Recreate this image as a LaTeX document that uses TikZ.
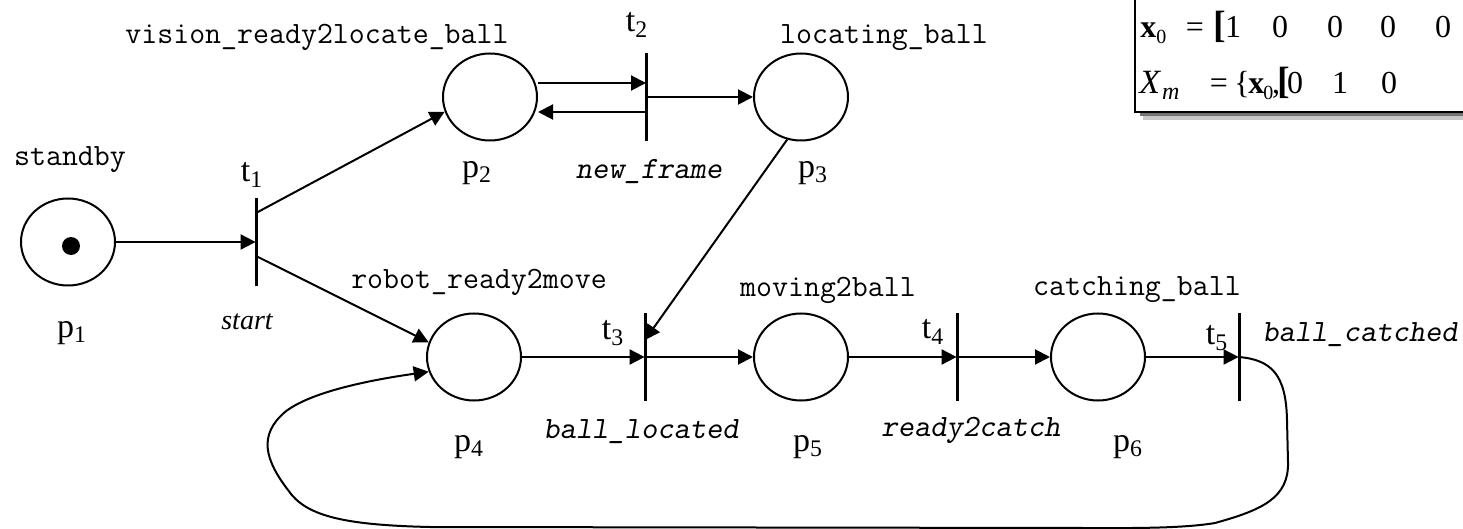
\documentclass[tikz,border=0pt]{standalone}
\usepackage{fontspec}
\setmainfont{Liberation Serif}
\usetikzlibrary{arrows.meta,shapes.geometric,calc}
% lowered small index used inside the marking box
\newcommand\idx[2][10]{\raisebox{-0.35ex}{\fontsize{#1}{#1}\selectfont #2}}

\begin{document}
\begin{tikzpicture}[x=0.5pt,y=-0.5pt,
  placenode/.style={draw,ellipse,line width=1pt,inner sep=0pt,minimum width=47pt,minimum height=43.5pt},
  transnode/.style={inner sep=0pt,minimum width=0pt,minimum height=43.5pt},
  bar/.style={line width=1.5pt},
  flow/.style={line width=1pt,-{Triangle[length=7.5pt,width=7.5pt]}},
  lbl/.style={inner sep=0pt,font=\fontsize{17}{20}\selectfont},
  act/.style={inner sep=0pt,font=\fontsize{15.5}{18}\selectfont\ttfamily},
  evt/.style={inner sep=0pt,font=\fontsize{15.5}{18}\selectfont\ttfamily\slshape},
  evtserif/.style={inner sep=0pt,font=\fontsize{14}{16}\selectfont\itshape},
  mtx/.style={inner sep=0pt,anchor=base,font=\fontsize{16}{18}\selectfont},
  brk/.style={inner sep=0pt,anchor=base,font=\fontsize{19}{21}\selectfont\bfseries},
]
\useasboundingbox (0,0) rectangle (1463,529);

% ---------- places ----------
\node[placenode] (p1) at (68,242) {};
\node[placenode] (p2) at (490,97) {};
\node[placenode] (p3) at (801,97) {};
\node[placenode] (p4) at (474,357) {};
\node[placenode] (p5) at (801,357) {};
\node[placenode] (p6) at (1098,357) {};
\fill (p1.center) ++(3,4) circle (4.5pt) node (tok) {};

% ---------- transitions ----------
\node[transnode] (t1) at (256,242) {};
\node[transnode] (t2) at (646,97) {};
\node[transnode] (t3) at (645,357) {};
\node[transnode] (t4) at (957,357) {};
\node[transnode] (t5) at (1239,357) {};
\foreach \t in {t1,t2,t3,t4,t5}
  \draw[bar] (\t.north) -- (\t.south);

% ports on the transition bars
\coordinate (t1u) at ($(t1)+(0,-29)$);
\coordinate (t1d) at ($(t1)+(0,14)$);
\coordinate (t2a) at ($(t2)+(0,-14)$);
\coordinate (t2b) at ($(t2)+(0,15)$);
\coordinate (t3c) at ($(t3)+(0,-17)$);

% ---------- arcs ----------
\draw[flow] (p1) -- (t1);
\draw[flow] (t1u) -- (p2.198);
\draw[flow] (t1d) -- (p4.162);
\draw[flow] (t2a -| p2.east) -- (t2a);
\draw[flow] (t2b) -- (t2b -| p2.east);
\draw[flow] (t2) -- (p3);
\draw[flow] (p3.252) -- (t3c);
\draw[flow] (p4) -- (t3);
\draw[flow] (t3) -- (p5);
\draw[flow] (p5) -- (t4);
\draw[flow] (t4) -- (p6);
\draw[flow] (p6) -- (t5);
% return arc from t5 back to p4
\draw[flow] (t5.center) .. controls (1272,360) and (1286,375) .. (1287,420)
  -- (1288,462) .. controls (1289,498) and (1262,510) .. (1215,523)
  .. controls (1180,529) and (1120,528) .. (1083,528)
  -- (430,527) .. controls (340,525) and (305,515) .. (288,490)
  .. controls (265,460) and (258,435) .. (285,412)
  .. controls (310,392) and (370,380) .. (p4.198);

% ---------- place names ----------
\node[act] (n1) at (70,160) {standby};
\node[act] (n2) at (317,37) {vision\_ready2locate\_ball};
\node[act] (n3) at (884,38) {locating\_ball};
\node[act] (n4) at (479,282) {robot\_ready2move};
\node[act] (n5) at (828,290) {moving2ball};
\node[act] (n6) at (1137,290) {catching\_ball};

% ---------- place labels ----------
\node[lbl] (l1) at (72,333) {p\textsubscript{1}};
\node[lbl] (l2) at (477,173) {p\textsubscript{2}};
\node[lbl] (l3) at (813,173) {p\textsubscript{3}};
\node[lbl] (l4) at (469,447) {p\textsubscript{4}};
\node[lbl] (l5) at (808,447) {p\textsubscript{5}};
\node[lbl] (l6) at (1128,447) {p\textsubscript{6}};

% ---------- transition labels ----------
\node[lbl] (m1) at (252,175) {t\textsubscript{1}};
\node[lbl] (m2) at (637,25) {t\textsubscript{2}};
\node[lbl] (m3) at (613,333) {t\textsubscript{3}};
\node[lbl] (m4) at (933,332) {t\textsubscript{4}};
\node[lbl] (m5) at (1217,338) {t\textsubscript{5}};

% ---------- events ----------
\node[evtserif] (e1) at (247,322) {start};
\node[evt] (e2) at (649,172) {new\_frame};
\node[evt] (e3) at (641,432) {ball\_located};
\node[evt] (e4) at (971,430) {ready2catch};
\node[evt] (e5) at (1360,335) {ball\_catched};

% ---------- marking box ----------
\fill[black!22] (1143,-20) rectangle (1520,120);
\fill[black!55] (1140,-20) rectangle (1520,116);
\draw[line width=1pt,fill=white] (1135,-20) rectangle (1520,112);

\node[mtx,anchor=base west] (x0) at (1140,38) {\textbf{x}\idx{0}};
\node[mtx] (eq1) at (1195,38) {=};
\node[brk] (br1) at (1220,38) {[};
\foreach \v/\x [count=\i] in {1/1233,0/1280,0/1335,0/1388,0/1443}
  \node[mtx] (ra\i) at (\x,38) {\v};

\node[mtx,anchor=base west] (xm) at (1139,94) {{\fontsize{17}{17}\selectfont\itshape X}\kern1pt\idx[12]{\itshape m}};
\node[mtx] (eq2) at (1219,94) {=};
\node[mtx] (lb) at (1242,94) {\{};
\node[mtx,anchor=base west] (x0b) at (1248,94) {\textbf{x}\kern-0.5pt\idx{0}};
\node[mtx] (cm) at (1276,94) {,};
\node[brk] (br2) at (1284,94) {[};
\foreach \v/\x [count=\i] in {0/1295,1/1340,0/1389,1/1470}
  \node[mtx] (rb\i) at (\x,94) {\v};
\end{tikzpicture}
\end{document}
